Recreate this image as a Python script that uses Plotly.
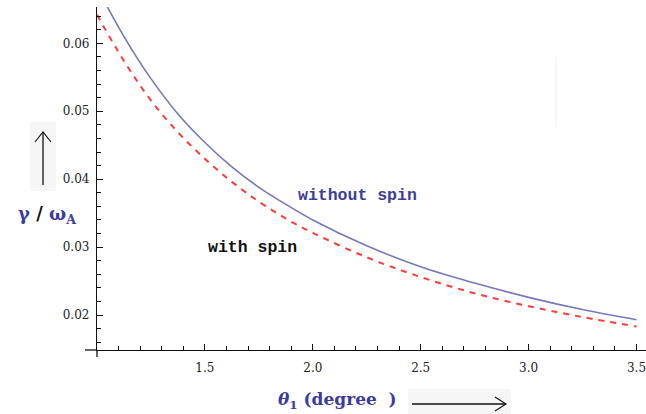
import plotly.graph_objects as go

# data
theta = [1.0, 1.125, 1.25, 1.375, 1.5, 1.625, 1.75, 1.875, 2.0, 2.25, 2.5, 2.75, 3.0, 3.25, 3.5]
gamma_without = [0.0682, 0.0610, 0.0548, 0.0496, 0.0454, 0.0418, 0.0388, 0.0363, 0.0340,
                 0.0302, 0.0271, 0.0247, 0.0226, 0.0208, 0.0193]
gamma_with = [0.0642, 0.0574, 0.0516, 0.0469, 0.0430, 0.0396, 0.0367, 0.0342, 0.0321,
              0.0285, 0.0256, 0.0232, 0.0213, 0.0197, 0.0183]

x_tickvals = [1.5, 2.0, 2.5, 3.0, 3.5]
x_ticktext = ["1.5", "2.0", "2.5", "3.0", "3.5"]
y_tickvals = [0.02, 0.03, 0.04, 0.05, 0.06]
y_ticktext = ["0.02", "0.03", "0.04", "0.05", "0.06"]

W, H = 646, 414
L, R, T, B = 97, 0, 7, 64
PW, PH = W - L - R, H - T - B

def px(x):
    return (x - L) / PW

def py(y):
    return (H - B - y) / PH

BLUE_TXT = "#3c3c9c"

fig = go.Figure()
fig.add_trace(go.Scatter(x=theta, y=gamma_without, mode="lines",
                         line=dict(color="#7777bd", width=1.6, shape="spline", smoothing=1.0),
                         name="without spin", showlegend=False))
fig.add_trace(go.Scatter(x=theta, y=gamma_with, mode="lines",
                         line=dict(color="#ff3c3c", width=2, dash="6px,6px", shape="spline", smoothing=1.0),
                         name="with spin", showlegend=False))

tickfont = dict(family="DejaVu Serif", size=12, color="#222222")
fig.update_xaxes(range=[1.0, 1.0 + PW / 215.8], showgrid=False, zeroline=False,
                 showline=True, linecolor="#111111", linewidth=1.3,
                 ticks="inside", ticklen=6, tickwidth=1, tickcolor="#111111",
                 tickmode="array", tickvals=x_tickvals, ticktext=x_ticktext,
                 tickfont=tickfont, ticklabelstandoff=6, ticklabeloverflow="allow",
                 minor=dict(ticks="inside", ticklen=3.5, tickwidth=1, tickcolor="#111111",
                            tickmode="linear", tick0=1.0, dtick=0.1, showgrid=False))
fig.update_yaxes(range=[0.01485, 0.06535], showgrid=False, zeroline=False,
                 showline=True, linecolor="#111111", linewidth=1.3,
                 ticks="inside", ticklen=6, tickwidth=1, tickcolor="#111111",
                 tickmode="array", tickvals=y_tickvals, ticktext=y_ticktext,
                 tickfont=tickfont, ticklabelstandoff=4, ticklabeloverflow="allow",
                 minor=dict(ticks="inside", ticklen=3.5, tickwidth=1, tickcolor="#111111",
                            tickmode="linear", tick0=0.0, dtick=0.002, showgrid=False))

shapes = []
# axis extensions
shapes.append(dict(type="line", xref="paper", yref="paper", x0=px(85), y0=0, x1=0, y1=0,
                   line=dict(color="#111111", width=1.3)))
shapes.append(dict(type="line", xref="paper", yref="paper", x0=0, y0=0, x1=0, y1=py(357),
                   line=dict(color="#111111", width=1.3)))
# light boxes behind the arrows
shapes.append(dict(type="rect", xref="paper", yref="paper", x0=px(30), x1=px(56), y0=py(191), y1=py(122),
                   fillcolor="#f6f6f6", line=dict(width=0), layer="below"))
shapes.append(dict(type="rect", xref="paper", yref="paper", x0=px(408), x1=px(511), y0=py(414), y1=py(389),
                   fillcolor="#f6f6f6", line=dict(width=0), layer="below"))
# up arrow
shapes.append(dict(type="line", xref="paper", yref="paper", x0=px(43), x1=px(43), y0=py(185), y1=py(132),
                   line=dict(color="#111111", width=1.3)))
shapes.append(dict(type="path", xref="paper", yref="paper",
                   path=f"M {px(35)} {py(142)} L {px(43)} {py(132)} L {px(51)} {py(142)}",
                   line=dict(color="#111111", width=1.1)))
# right arrow
shapes.append(dict(type="line", xref="paper", yref="paper", x0=px(412), x1=px(506), y0=py(404), y1=py(404),
                   line=dict(color="#111111", width=1.3)))
shapes.append(dict(type="path", xref="paper", yref="paper",
                   path=f"M {px(495)} {py(397)} L {px(506)} {py(404)} L {px(495)} {py(411)}",
                   line=dict(color="#111111", width=1.1)))
# faint vertical artifact
shapes.append(dict(type="line", xref="paper", yref="paper", x0=px(556), x1=px(556), y0=py(127), y1=py(57),
                   line=dict(color="#efefef", width=1)))

annotations = [
    dict(x=2.207, y=0.03767, xref="x", yref="y", text="<b>without spin</b>", showarrow=False,
         font=dict(family="Liberation Mono", size=16.5, color=BLUE_TXT)),
    dict(x=1.722, y=0.0300, xref="x", yref="y", text="<b>with spin</b>", showarrow=False,
         font=dict(family="Liberation Mono", size=16.5, color="#111111")),
    dict(x=px(47), y=py(215), xref="paper", yref="paper", showarrow=False,
         xanchor="center", yanchor="middle",
         text=f"<b><span style='color:{BLUE_TXT}'>γ</span> / <span style='color:{BLUE_TXT}'>ω<sub>A</sub></span></b>",
         font=dict(family="DejaVu Serif", size=18, color="#111111")),
    dict(x=px(337), y=py(400), xref="paper", yref="paper", showarrow=False,
         xanchor="center", yanchor="middle",
         text=f"<b><span style='color:{BLUE_TXT}'><i>θ</i><sub>1</sub> (degree  )</span></b>",
         font=dict(family="DejaVu Serif", size=17, color=BLUE_TXT)),
]

fig.update_layout(width=W, height=H, margin=dict(l=L, r=R, t=T, b=B),
                  paper_bgcolor="white", plot_bgcolor="white",
                  shapes=shapes, annotations=annotations)

fig.write_html("out.html")
